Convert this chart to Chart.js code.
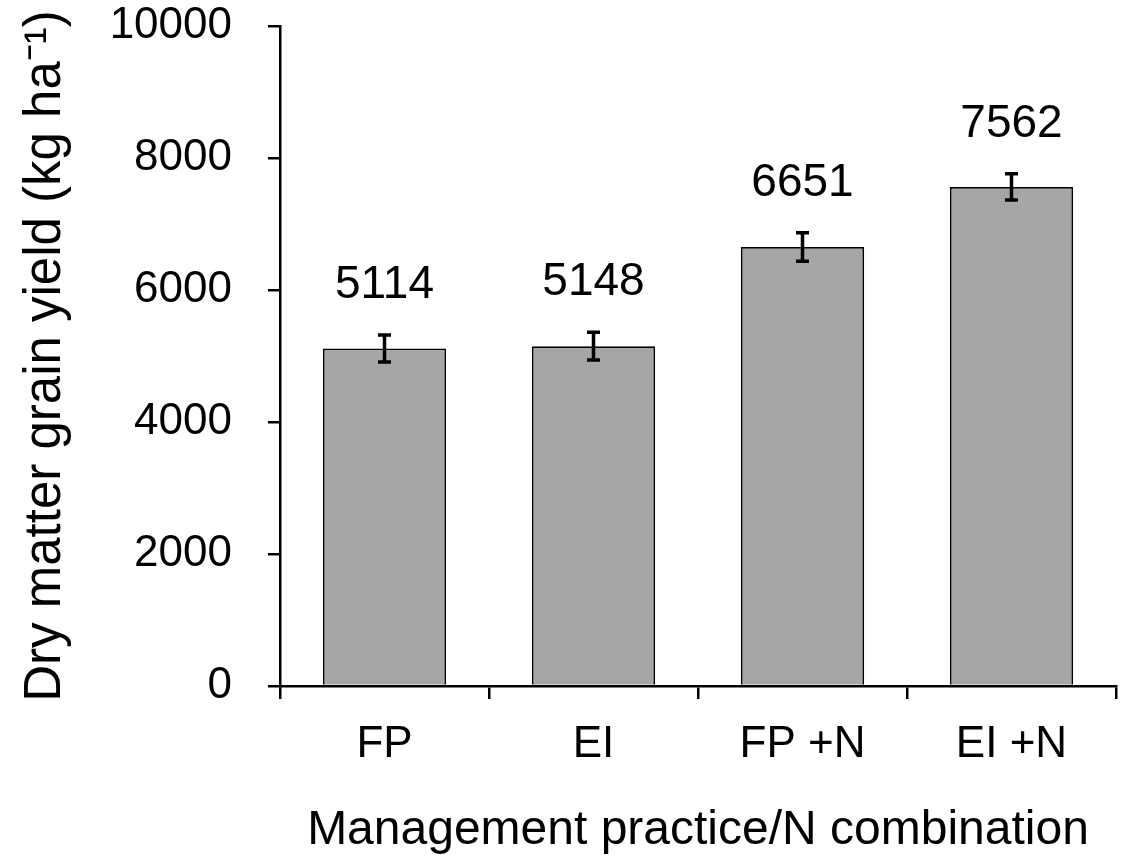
<!DOCTYPE html>
<html>
<head>
<meta charset="utf-8">
<script src="https://cdn.jsdelivr.net/npm/chart.js@4"></script>
<style>
  body { margin: 0; background: #fff; }
  #wrap { width: 1126px; height: 860px; }
</style>
</head>
<body>
<div id="wrap"><canvas id="canvas_yield" width="1126" height="860"></canvas></div>
<script>
var categories = ["FP", "EI", "FP +N", "EI +N"];
var yieldValues = [5114, 5148, 6651, 7562];
var yieldErrors = [205, 210, 215, 200];
var yTicks = [0, 2000, 4000, 6000, 8000, 10000];

var fontFamily = "'Liberation Sans', Arial, sans-serif";

// error bars + value labels drawn on top of the bars
var errorBarPlugin = {
  id: 'errorBars',
  afterDatasetsDraw: function (chart) {
    var ctx = chart.ctx;
    var yScale = chart.scales.y;
    var meta = chart.getDatasetMeta(0);
    ctx.save();
    meta.data.forEach(function (bar, i) {
      var x = bar.x;
      var top = yScale.getPixelForValue(yieldValues[i] + yieldErrors[i]);
      var bottom = yScale.getPixelForValue(yieldValues[i] - yieldErrors[i]);
      ctx.strokeStyle = '#000';
      ctx.lineWidth = 3.5;
      ctx.beginPath();
      ctx.moveTo(x, top);
      ctx.lineTo(x, bottom);
      ctx.moveTo(x - 6.5, top);
      ctx.lineTo(x + 6.5, top);
      ctx.moveTo(x - 6.5, bottom);
      ctx.lineTo(x + 6.5, bottom);
      ctx.stroke();

      ctx.fillStyle = '#000';
      ctx.font = '46px ' + fontFamily;
      ctx.textAlign = 'center';
      ctx.textBaseline = 'alphabetic';
      ctx.fillText(String(yieldValues[i]), x, top - 37);
    });
    ctx.restore();
  }
};

var ctx = document.getElementById("canvas_yield");
var yieldChart = new Chart(ctx, {
  type: 'bar',
  data: {
    labels: categories,
    datasets: [{
      data: yieldValues,
      backgroundColor: '#a6a6a6',
      borderColor: '#000',
      borderWidth: 1.8,
      categoryPercentage: 1,
      barPercentage: 0.59
    }]
  },
  options: {
    responsive: false,
    animation: false,
    layout: { padding: { top: 26, right: 10, left: 0, bottom: 0 } },
    plugins: {
      legend: { display: false },
      tooltip: { enabled: false }
    },
    scales: {
      x: {
        offset: true,
        grid: {
          offset: true,
          drawOnChartArea: false,
          drawTicks: true,
          tickLength: 13,
          color: '#000',
          lineWidth: 2.5
        },
        border: { color: '#000', width: 2.5 },
        ticks: {
          color: '#000',
          padding: 19,
          maxRotation: 0,
          font: { family: fontFamily, size: 44 }
        },
        title: {
          display: true,
          text: 'Management practice/N combination',
          color: '#000',
          padding: { top: 0, bottom: 0 },
          font: { family: fontFamily, size: 48 }
        },
        afterFit: function (s) { s.height = 174; s.paddingLeft = 0; s.paddingRight = 0; }
      },
      y: {
        min: 0,
        max: 10000,
        afterBuildTicks: function (s) {
          s.ticks = yTicks.map(function (v) { return { value: v }; });
        },
        grid: {
          drawOnChartArea: false,
          drawTicks: true,
          tickLength: 12,
          color: '#000',
          lineWidth: 2.5
        },
        border: { color: '#000', width: 2.5 },
        ticks: {
          color: '#000',
          padding: 36,
          font: { family: fontFamily, size: 44 },
          callback: function (v) { return String(v); }
        },
        title: {
          display: true,
          text: 'Dry matter grain yield (kg ha\u207B\u00B9)',
          color: '#000',
          padding: { top: 15, bottom: 0 },
          font: { family: fontFamily, size: 51 }
        },
        afterFit: function (s) { s.width = 280; s.paddingTop = 0; s.paddingBottom = 0; }
      }
    }
  },
  plugins: [errorBarPlugin]
});
</script>
</body>
</html>
